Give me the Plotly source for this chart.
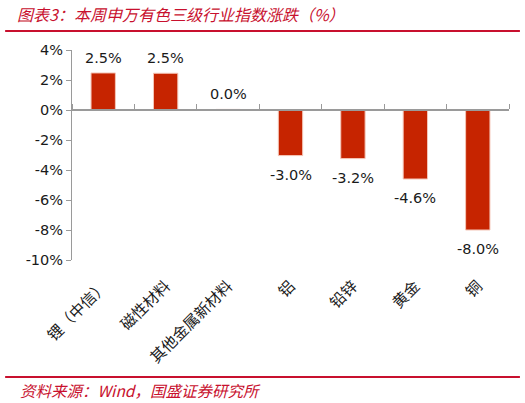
import plotly.graph_objects as go

categories = ["锂（中信）", "磁性材料", "其他金属新材料", "铝", "铅锌", "黄金", "铜"]
changes = [2.47, 2.45, 0.04, -3.04, -3.24, -4.6, -8.0]
y_ticks = [4, 2, 0, -2, -4, -6, -8, -10]
y_tick_text = [f"{v}%" for v in y_ticks]

TITLE = "图表3：本周申万有色三级行业指数涨跌（%）"
SOURCE = "资料来源：<i>Wind</i>，国盛证券研究所"

BAR_RED = "#C62400"
TITLE_RED = "#C8102E"
AXIS_GREY = "#9A9A9A"
Y_MIN, Y_MAX = -10, 4

fig = go.Figure()
fig.add_trace(go.Bar(
    x=categories, y=changes,
    marker=dict(color=BAR_RED, line=dict(color="#F4C6B8", width=1)),
    width=0.39, hoverinfo="x+y",
))
# invisible trace so the zero axis (x2) carries the category tick marks
fig.add_trace(go.Scatter(
    x=categories, y=[0] * len(categories), xaxis="x2",
    mode="markers", marker=dict(opacity=0), hoverinfo="skip", showlegend=False,
))

# value labels, a little further from the bar ends than plotly's default
for cat, v in zip(categories, changes):
    fig.add_annotation(
        x=cat, y=v, text=f"{v:.1f}%", showarrow=False,
        yanchor="bottom" if v >= 0 else "top", yshift=5 if v >= 0 else -9,
        font=dict(family="DejaVu Sans", size=14.5, color="#1a1a1a"),
    )

zero_pos = (0 - Y_MIN) / (Y_MAX - Y_MIN)

fig.update_layout(
    width=525, height=403,
    paper_bgcolor="white", plot_bgcolor="white",
    margin=dict(l=72, r=16, t=50, b=143),
    showlegend=False,
    xaxis=dict(
        type="category", showline=False, ticks="", showgrid=False, zeroline=False,
        tickangle=-45, automargin=False, ticklabelstandoff=13,
        tickfont=dict(family="Noto Sans CJK SC", size=15.5, color="#1a1a1a"),
    ),
    xaxis2=dict(
        type="category", overlaying="x", side="top", anchor="free", position=zero_pos,
        matches="x", showline=True, linecolor=AXIS_GREY, linewidth=1.5,
        ticks="outside", tickson="boundaries", ticklen=5, tickcolor=AXIS_GREY,
        showticklabels=False, showgrid=False, automargin=False,
    ),
    yaxis=dict(
        range=[Y_MIN, Y_MAX], tickvals=y_ticks, ticktext=y_tick_text,
        showline=True, linecolor=AXIS_GREY, linewidth=1,
        ticks="outside", ticklen=5, tickcolor=AXIS_GREY,
        showgrid=False, zeroline=False, automargin=False,
        tickfont=dict(family="DejaVu Sans", size=14.5, color="#1a1a1a"),
    ),
    font=dict(family="Noto Sans CJK SC"),
)

# title, source and the two red rules
fig.add_annotation(
    text=f"<i>{TITLE}</i>", xref="paper", yref="paper", x=-0.13, y=1.171,
    xanchor="left", yanchor="middle", showarrow=False,
    font=dict(family="Noto Sans CJK SC", size=16, color=TITLE_RED),
)
fig.add_annotation(
    text=f"<i>{SOURCE}</i>", xref="paper", yref="paper", x=-0.124, y=-0.619,
    xanchor="left", yanchor="middle", showarrow=False,
    font=dict(family="Noto Sans CJK SC", size=15.5, color=TITLE_RED),
)
for yy in (1.09, -0.557):
    fig.add_shape(type="line", xref="paper", yref="paper",
                  x0=-0.153, x1=1.025, y0=yy, y1=yy,
                  line=dict(color=TITLE_RED, width=2))

# drop the default 8px body margin so the figure sits flush in the window
fig.write_html(
    "out.html",
    config={"displayModeBar": False},
    post_script="document.body.style.margin='0';",
)
